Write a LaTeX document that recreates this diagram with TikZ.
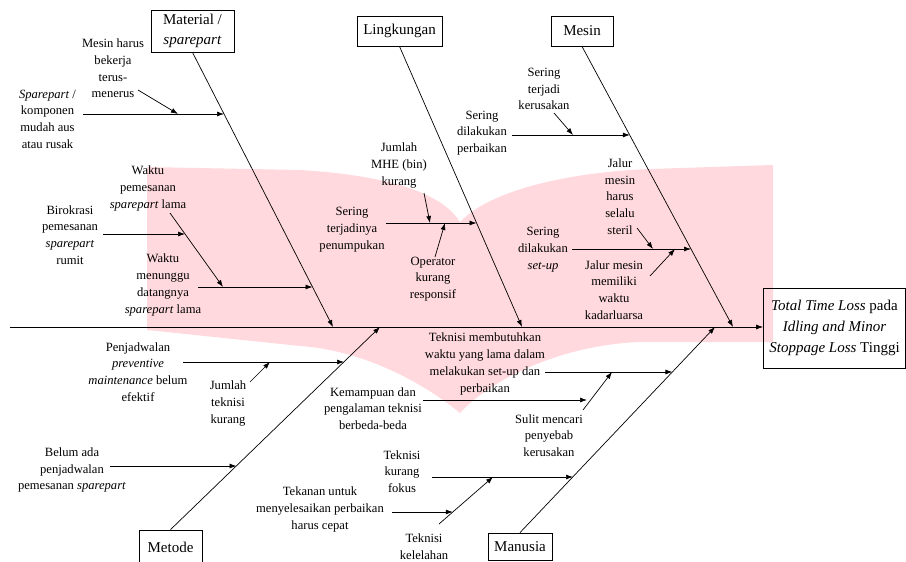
\documentclass[tikz,border=0pt]{standalone}
\usepackage{fontspec}
\setmainfont{Liberation Serif}
\usetikzlibrary{arrows.meta}
\definecolor{wm}{RGB}{255,217,221}
\begin{document}
\begin{tikzpicture}[x=1pt,y=-1pt,
 lbl/.style={font=\fontsize{12.6}{16.7}\selectfont, align=center, inner sep=0pt},
 cat/.style={draw, line width=0.8pt, font=\fontsize{15}{20}\selectfont, align=center, inner sep=0pt},
 arr/.style={line width=0.7pt, -{Latex[length=7pt,width=5pt]}},
 ln/.style={line width=0.7pt}]
\useasboundingbox (0,0) rectangle (906,562);
% watermark
\fill[wm] (147,167) -- (300,170) .. controls (380,175) and (440,190) .. (460,222)
  .. controls (490,190) and (570,172) .. (650,169) -- (773,165) -- (773,342) -- (640,342)
  .. controls (560,345) and (490,380) .. (460,413)
  .. controls (420,380) and (360,350) .. (300,346) -- (147,330) -- cycle;
% category boxes
\node[cat, minimum width=83, minimum height=42] (mat) at (192.5,31) {Material /\\\textit{sparepart}};
\node[cat, minimum width=85, minimum height=30] (lin) at (399.5,31) {Lingkungan};
\node[cat, minimum width=62, minimum height=30] (mes) at (582,31) {Mesin};
\node[cat, minimum width=63, minimum height=34] (met) at (170.5,547) {Metode};
\node[cat, minimum width=64, minimum height=27] (man) at (520,546.5) {Manusia};
% effect
\node[draw, line width=0.8pt, minimum width=142, minimum height=80, inner sep=0pt,
  font=\fontsize{15}{21}\selectfont, align=center] (eff) at (834.5,328)
  {\textit{Total Time Loss} pada\\\textit{Idling and Minor}\\\textit{Stoppage Loss} Tinggi};
% spine
\coordinate (s0) at (10,327);
\draw[arr] (s0) -- (eff.west |- s0);
% bone ends
\coordinate (bmat) at (333,327);
\coordinate (blin) at (522,327);
\coordinate (bmes) at (733,327);
\coordinate (bmet) at (380,327);
\coordinate (bman) at (715,327);
\draw[arr] (mat.south) -- (bmat);
\draw[arr] (lin.south) -- (blin);
\draw[arr] (mes.south) -- (bmes);
\draw[arr] (met.north) -- (bmet);
\draw[arr] (man.north) -- (bman);

% ---------- Material ----------
\node[lbl] (t1) at (113,68.5) {Mesin harus\\bekerja\\terus-\\menerus};
\node[lbl] (t2) at (47.5,119) {\textit{Sparepart} /\\komponen\\mudah aus\\atau rusak};
\node[lbl] (t3) at (148,188.5) {Waktu\\pemesanan\\\textit{sparepart} lama};
\node[lbl] (t4) at (70,235) {Birokrasi\\pemesanan\\\textit{sparepart}\\rumit};
\node[lbl] (t5) at (163,285) {Waktu\\menunggu\\datangnya\\\textit{sparepart} lama};
\coordinate (a2s) at (83,114); \coordinate (a2e) at (224,114);
\draw[arr] (a2s) -- (a2e);
\coordinate (a1s) at (138,90); \coordinate (a1e) at (178,114);
\draw[arr] (a1s) -- (a1e);
\coordinate (a5s) at (198,287); \coordinate (a5e) at (312.5,287);
\draw[arr] (a5s) -- (a5e);
\coordinate (a3s) at (170,213); \coordinate (a3e) at (223,287);
\draw[arr] (a3s) -- (a3e);
\coordinate (a4s) at (103,234); \coordinate (a4e) at (185,234);
\draw[arr] (a4s) -- (a4e);

% ---------- Lingkungan ----------
\node[lbl] (t6) at (352,229.5) {Sering\\terjadinya\\penumpukan};
\node[lbl] (t7) at (399,165.5) {Jumlah\\MHE (bin)\\kurang};
\node[lbl] (t8) at (433,279) {Operator\\kurang\\responsif};
\coordinate (a6s) at (386,223); \coordinate (a6e) at (476.5,223);
\draw[arr] (a6s) -- (a6e);
\coordinate (a7s) at (424,193); \coordinate (a7e) at (430,223);
\draw[arr] (a7s) -- (a7e);
\coordinate (a8s) at (435,257); \coordinate (a8e) at (445,223);
\draw[arr] (a8s) -- (a8e);

% ---------- Mesin ----------
\node[lbl] (t9) at (482,133) {Sering\\dilakukan\\perbaikan};
\node[lbl] (t10) at (544,89) {Sering\\terjadi\\kerusakan};
\node[lbl] (t11) at (543,249.5) {Sering\\dilakukan\\\textit{set-up}};
\node[lbl] (t12) at (620,196.5) {Jalur\\mesin\\harus\\selalu\\steril};
\node[lbl] (t13) at (614,290) {Jalur mesin\\memiliki\\waktu\\kadarluarsa};
\coordinate (a9s) at (512,135); \coordinate (a9e) at (629.8,135);
\draw[arr] (a9s) -- (a9e);
\coordinate (a10s) at (554,113); \coordinate (a10e) at (573,135);
\draw[arr] (a10s) -- (a10e);
\coordinate (a11s) at (572,249); \coordinate (a11e) at (691,249);
\draw[arr] (a11s) -- (a11e);
\coordinate (a12s) at (637,228); \coordinate (a12e) at (653,249);
\draw[arr] (a12s) -- (a12e);
\coordinate (a13s) at (650,276); \coordinate (a13e) at (675,249);
\draw[arr] (a13s) -- (a13e);

% ---------- Metode ----------
\node[lbl] (t14) at (138,372) {Penjadwalan\\\textit{preventive}\\\textit{maintenance} belum\\efektif};
\node[lbl] (t15) at (228,403.5) {Jumlah\\teknisi\\kurang};
\node[lbl] (t16) at (72,470) {Belum ada\\penjadwalan\\pemesanan \textit{sparepart}};
\coordinate (a14s) at (183,362); \coordinate (a14e) at (344,362);
\draw[arr] (a14s) -- (a14e);
\coordinate (a15s) at (250,382); \coordinate (a15e) at (270,362);
\draw[arr] (a15s) -- (a15e);
\coordinate (a16s) at (110,466); \coordinate (a16e) at (236.5,466);
\draw[arr] (a16s) -- (a16e);

% ---------- Manusia ----------
\node[lbl] (t17) at (485,364) {Teknisi membutuhkan\\waktu yang lama dalam\\melakukan set-up dan\\perbaikan};
\node[lbl] (t18) at (373,408.5) {Kemampuan dan\\pengalaman teknisi\\berbeda-beda};
\node[lbl] (t19) at (549,435.5) {Sulit mencari\\penyebab\\kerusakan};
\node[lbl] (t20) at (402,471.5) {Teknisi\\kurang\\fokus};
\node[lbl] (t21) at (320,509.5) {Tekanan untuk\\menyelesaikan perbaikan\\harus cepat};
\node[lbl] (t22) at (424,546.5) {Teknisi\\kelelahan};
\coordinate (a17s) at (545,372); \coordinate (a17e) at (672.4,372);
\draw[arr] (a17s) -- (a17e);
\coordinate (a18s) at (423,400); \coordinate (a18e) at (587,400);
\draw[arr] (a18s) -- (a18e);
\coordinate (a19s) at (583,410); \coordinate (a19e) at (612,372);
\draw[arr] (a19s) -- (a19e);
\coordinate (a20s) at (432,477); \coordinate (a20e) at (573,477);
\draw[arr] (a20s) -- (a20e);
\coordinate (a22s) at (439,524); \coordinate (a22e) at (493,477);
\draw[arr] (a22s) -- (a22e);
\coordinate (a21s) at (392,512); \coordinate (a21e) at (452.8,512);
\draw[arr] (a21s) -- (a21e);
\end{tikzpicture}
\end{document}
